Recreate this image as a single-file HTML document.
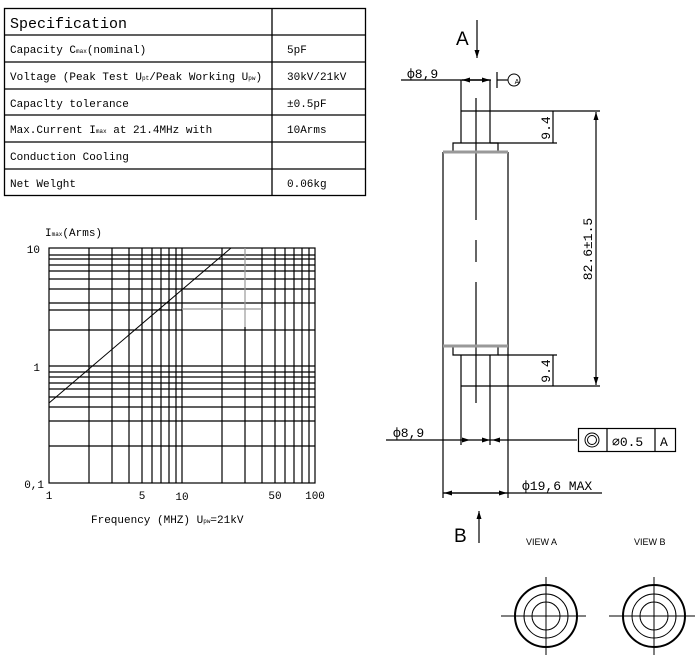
<!DOCTYPE html>
<html><head><meta charset="utf-8"><style>
body{margin:0;background:#fff}
svg{display:block}
text{font-family:"Liberation Mono","DejaVu Sans Mono",monospace;fill:#000}
.s{font-family:"Liberation Sans",sans-serif}
</style></head><body>
<svg width="695" height="655" viewBox="0 0 695 655" xmlns="http://www.w3.org/2000/svg">
<defs>
<marker id="ar" markerWidth="8" markerHeight="6" refX="8" refY="3" orient="auto" markerUnits="userSpaceOnUse"><path d="M0,0.5 L8,3 L0,5.5z" fill="#000"/></marker>
</defs>
<!-- table -->
<g stroke="#000" stroke-width="1.3" fill="none">
<rect x="4.5" y="8.5" width="361" height="187"/>
<line x1="272" y1="8" x2="272" y2="195"/>
<line x1="4" y1="35" x2="365" y2="35"/>
<line x1="4" y1="62" x2="365" y2="62"/>
<line x1="4" y1="89" x2="365" y2="89"/>
<line x1="4" y1="115" x2="365" y2="115"/>
<line x1="4" y1="142" x2="365" y2="142"/>
<line x1="4" y1="169" x2="365" y2="169"/>
</g>
<text x="10" y="28" font-size="15">Specification</text>
<g font-size="11">
<text x="10" y="53">Capacity C<tspan font-size="6">max</tspan>(nominal)</text>
<text x="287" y="53">5pF</text>
<text x="10" y="80">Voltage (Peak Test U<tspan font-size="6">pt</tspan>/Peak Working U<tspan font-size="6">pw</tspan>)</text>
<text x="287" y="80">30kV/21kV</text>
<text x="10" y="107">Capaclty tolerance</text>
<text x="287" y="107">±0.5pF</text>
<text x="10" y="133">Max.Current I<tspan font-size="6">max</tspan>  at 21.4MHz with</text>
<text x="287" y="133">10Arms</text>
<text x="10" y="160">Conduction Cooling</text>
<text x="10" y="187">Net Welght</text>
<text x="287" y="187">0.06kg</text>
</g>
<!-- chart -->
<g stroke="#000" stroke-width="1.2" fill="none">
<rect x="49" y="248" width="266" height="235"/>
<g id="vx">
<line x1="89" y1="248" x2="89" y2="483"/><line x1="112" y1="248" x2="112" y2="483"/><line x1="129" y1="248" x2="129" y2="483"/><line x1="142" y1="248" x2="142" y2="483"/><line x1="152" y1="248" x2="152" y2="483"/><line x1="161" y1="248" x2="161" y2="483"/><line x1="169" y1="248" x2="169" y2="483"/><line x1="176" y1="248" x2="176" y2="483"/>
<line x1="182" y1="248" x2="182" y2="483"/>
<line x1="222" y1="248" x2="222" y2="483"/><line x1="245" y1="327" x2="245" y2="483"/><line x1="262" y1="248" x2="262" y2="483"/><line x1="275" y1="248" x2="275" y2="483"/><line x1="285" y1="248" x2="285" y2="483"/><line x1="294" y1="248" x2="294" y2="483"/><line x1="302" y1="248" x2="302" y2="483"/><line x1="309" y1="248" x2="309" y2="483"/>
</g>
<line x1="49" y1="366" x2="315" y2="366"/>
<line x1="49" y1="255" x2="315" y2="255"/><line x1="49" y1="259" x2="315" y2="259"/><line x1="49" y1="265" x2="315" y2="265"/><line x1="49" y1="271" x2="315" y2="271"/><line x1="49" y1="279" x2="315" y2="279"/><line x1="49" y1="289" x2="315" y2="289"/><line x1="49" y1="303" x2="315" y2="303"/><line x1="49" y1="310" x2="182" y2="310"/><line x1="49" y1="330" x2="315" y2="330"/>
<line x1="49" y1="372" x2="315" y2="372"/><line x1="49" y1="377" x2="315" y2="377"/><line x1="49" y1="383" x2="315" y2="383"/><line x1="49" y1="389" x2="315" y2="389"/><line x1="49" y1="397" x2="315" y2="397"/><line x1="49" y1="407" x2="315" y2="407"/><line x1="49" y1="421" x2="315" y2="421"/><line x1="49" y1="446" x2="315" y2="446"/>
</g>
<g stroke="#999" stroke-width="1.2"><line x1="182" y1="309" x2="262" y2="309"/><line x1="245" y1="248" x2="245" y2="327"/></g>
<line x1="49" y1="403" x2="231" y2="248" stroke="#000" stroke-width="1"/>
<text x="45" y="236" font-size="11">I<tspan font-size="6">max</tspan>(Arms)</text>
<g font-size="11" text-anchor="end"><text x="40" y="253">10</text><text x="40" y="371">1</text><text x="44" y="488">0,1</text></g>
<g font-size="11" text-anchor="middle"><text x="49" y="499">1</text><text x="142" y="499">5</text><text x="182" y="500">10</text><text x="275" y="499">50</text><text x="315" y="499">100</text></g>
<text x="91" y="523" font-size="11">Frequency (MHZ) U<tspan font-size="6">pw</tspan>=21kV</text>
<!-- drawing -->
<g stroke="#000" stroke-width="1.2" fill="none">
<line x1="477" y1="20" x2="477" y2="58" marker-end="url(#ar)"/>
<line x1="401" y1="80" x2="491" y2="80"/>
<line x1="462" y1="80" x2="490" y2="80" marker-end="url(#ar)"/>
<line x1="489" y1="80" x2="462" y2="80" marker-end="url(#ar)"/>
<line x1="497" y1="72" x2="497" y2="88"/><line x1="497" y1="80" x2="508" y2="80"/>
<circle cx="514" cy="80" r="6" stroke-width="1"/>
<line x1="461" y1="80" x2="461" y2="143"/><line x1="490" y1="80" x2="490" y2="143"/>
<line x1="461" y1="111" x2="600" y2="111"/>
<line x1="490" y1="143" x2="557" y2="143"/>
<line x1="553" y1="111" x2="553" y2="143"/>
<path d="M453,151 V143 H498 V151"/>
<line x1="443" y1="152" x2="443" y2="498"/><line x1="508" y1="152" x2="508" y2="498"/>
<path d="M453,347 V355 H498 V347"/>
<line x1="461" y1="355" x2="461" y2="445"/><line x1="490" y1="355" x2="490" y2="445"/>
<line x1="498" y1="355" x2="557" y2="355"/>
<line x1="461" y1="386" x2="600" y2="386"/>
<line x1="553" y1="355" x2="553" y2="386"/>
<line x1="596" y1="250" x2="596" y2="112" marker-end="url(#ar)"/>
<line x1="596" y1="250" x2="596" y2="385" marker-end="url(#ar)"/>
<path d="M476,98 V220 M476,240 V262 M476,282 V403" />
<line x1="386" y1="440" x2="577" y2="440"/>
<line x1="443" y1="493" x2="602" y2="493"/>
<line x1="475" y1="493" x2="444" y2="493" marker-end="url(#ar)"/>
<line x1="475" y1="493" x2="507" y2="493" marker-end="url(#ar)"/>
<rect x="578.5" y="428.5" width="97" height="23"/>
<line x1="607" y1="428" x2="607" y2="452"/><line x1="655" y1="428" x2="655" y2="452"/>
<circle cx="592" cy="440" r="7" stroke-width="1"/><circle cx="592" cy="440" r="4.5" stroke-width="1"/>
<line x1="479" y1="543" x2="479" y2="511" marker-end="url(#ar)"/>
</g>
<g stroke="#999" stroke-width="3"><line x1="443" y1="152" x2="508" y2="152"/><line x1="443" y1="346" x2="508" y2="346"/></g>
<g stroke="#000" stroke-width="1" fill="none">
<line x1="462" y1="440" x2="470" y2="440" marker-end="url(#ar)"/>
<line x1="480" y1="440" x2="490" y2="440" marker-end="url(#ar)"/>
<line x1="508" y1="440" x2="492" y2="440" marker-end="url(#ar)"/>
</g>
<text x="456" y="45" class="s" font-size="19">A</text>
<text x="454" y="542" class="s" font-size="19">B</text>
<text x="407" y="78" font-size="13">ф8,9</text>
<text x="393" y="437" font-size="13">ф8,9</text>
<text x="522" y="490" font-size="13">ф19,6 MAX</text>
<text x="612" y="446" font-size="13">∅0.5</text>
<text x="660" y="446" font-size="13">A</text>
<text x="517" y="84" font-size="7" text-anchor="middle" class="s">A</text>
<text transform="translate(550,128) rotate(-90)" text-anchor="middle" font-size="13">9.4</text>
<text transform="translate(550,371) rotate(-90)" text-anchor="middle" font-size="13">9.4</text>
<text transform="translate(592,249) rotate(-90)" text-anchor="middle" font-size="13">82.6±1.5</text>
<text x="526" y="545" font-size="9" class="s">VIEW  A</text>
<text x="634" y="545" font-size="9" class="s">VIEW  B</text>
<g stroke="#000" fill="none">
<circle cx="546" cy="616" r="31" stroke-width="2"/><circle cx="546" cy="616" r="22"/><circle cx="546" cy="616" r="14"/>
<line x1="501" y1="616" x2="586" y2="616"/><line x1="546" y1="577" x2="546" y2="655"/>
<circle cx="654" cy="616" r="31" stroke-width="2"/><circle cx="654" cy="616" r="22"/><circle cx="654" cy="616" r="14"/>
<line x1="609" y1="616" x2="695" y2="616"/><line x1="654" y1="577" x2="654" y2="655"/>
</g>
</svg>
</body></html>
